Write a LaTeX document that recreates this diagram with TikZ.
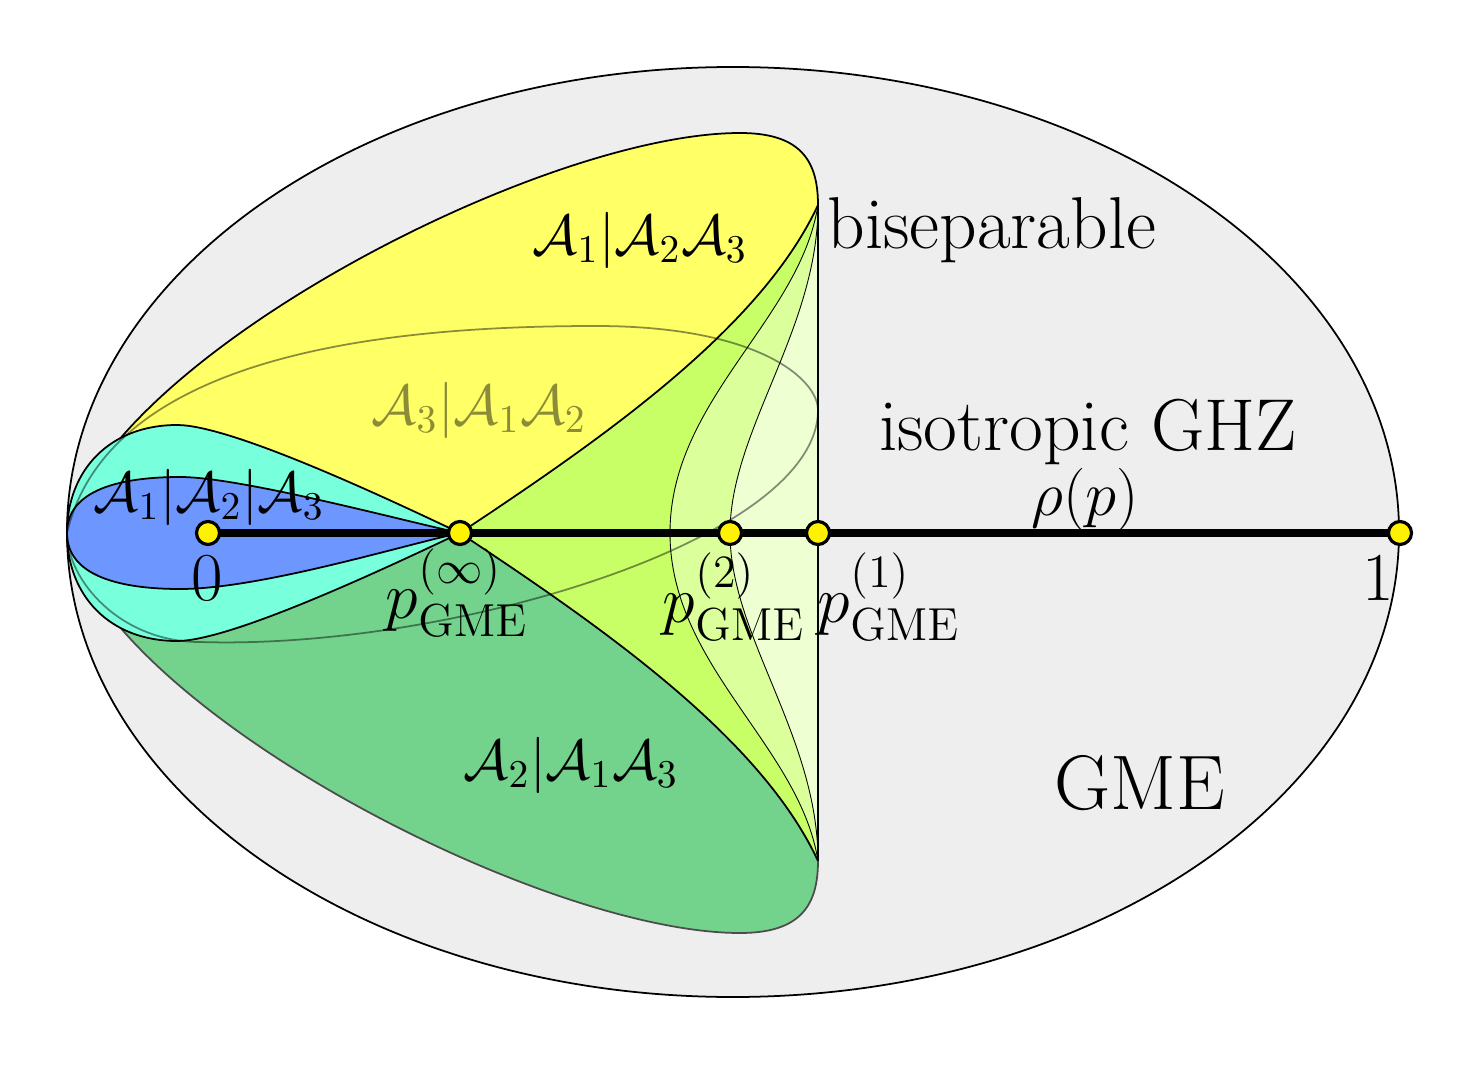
\documentclass[tikz,border=0pt]{standalone}
\usepackage{fix-cm}
\usepackage{amsmath}
\definecolor{bgray}{RGB}{238,238,238}
\definecolor{yel}{RGB}{255,255,102}
\definecolor{limeA}{RGB}{200,255,102}
\definecolor{limeB}{RGB}{218,255,155}
\definecolor{limeC}{RGB}{238,255,210}
\definecolor{cyanA}{RGB}{120,255,220}
\definecolor{blueA}{RGB}{110,150,255}
\definecolor{greenA}{RGB}{115,211,140}
\begin{document}
\begin{tikzpicture}[x=0.01cm,y=-0.01cm,
  edge/.style={line width=0.5pt},
  hair/.style={line width=0.25pt},
  dot/.style={circle,draw=black,fill=yellow,line width=0.9pt,inner sep=0pt,minimum size=0.23cm},
  txt/.style={font=\fontsize{20.9}{25}\selectfont,inner sep=0pt},
  big/.style={font=\fontsize{22}{26}\selectfont,inner sep=0pt},
  lab/.style={font=\fontsize{16}{19}\selectfont,inner sep=0pt},
  rlab/.style={font=\fontsize{17.9}{21}\selectfont,inner sep=0pt},
  plab/.style={font=\fontsize{18.8}{22}\selectfont,inner sep=0pt},
  nlab/.style={font=\fontsize{19.5}{23}\selectfont,inner sep=0pt}]
\useasboundingbox (0,0) rectangle (1467,1067);
\coordinate (L) at (67,533);
\coordinate (Pinf) at (460,533);
\coordinate (CT) at (818,205);
\coordinate (CB) at (818,861);
\coordinate (c0) at (208,533);
\coordinate (c2) at (730,533);
\coordinate (c1p) at (818,533);
\coordinate (c1) at (1400,533);
% outer ellipse
\filldraw[fill=bgray,draw=black,edge] (733,532) ellipse [x radius=666, y radius=465];
% lime regions
\fill[limeA] (Pinf) .. controls (600,440) and (760,330) .. (CT) -- (CB) .. controls (760,736) and (600,626) .. (Pinf) -- cycle;
\fill[limeB] (CT) .. controls (800,320) and (670,400) .. (670,533) .. controls (670,666) and (800,746) .. (CB) -- cycle;
\fill[limeC] (CT) .. controls (818,330) and (730,430) .. (730,533) .. controls (730,636) and (818,736) .. (CB) -- cycle;
\draw[hair] (CT) .. controls (800,320) and (670,400) .. (670,533) .. controls (670,666) and (800,746) .. (CB);
\draw[hair] (CT) .. controls (818,330) and (730,430) .. (730,533) .. controls (730,636) and (818,736) .. (CB);
\draw[edge] (CT) -- (CB);
% yellow
\fill[yel] (L) .. controls (105,360) and (540,133) .. (740,133) .. controls (800,133) and (818,160) .. (CT) .. controls (760,330) and (600,440) .. (Pinf) -- cycle;
% green
\fill[greenA] (L) .. controls (105,706) and (540,933) .. (740,933) .. controls (800,933) and (818,906) .. (CB) .. controls (760,736) and (600,626) .. (Pinf) -- cycle;
\draw[edge] (L) .. controls (105,360) and (540,133) .. (740,133) .. controls (800,133) and (818,160) .. (CT) .. controls (760,330) and (600,440) .. (Pinf);
\draw[edge,draw=black!70] (L) .. controls (105,706) and (540,933) .. (740,933) .. controls (800,933) and (818,906) .. (CB);
\draw[edge] (CB) .. controls (760,736) and (600,626) .. (Pinf);
% cyan lens
\filldraw[fill=cyanA,draw=black,edge] (L) .. controls (67,470) and (110,425) .. (177,425) .. controls (230,425) and (380,495) .. (Pinf) .. controls (380,571) and (230,641) .. (177,641) .. controls (110,641) and (67,596) .. (L) -- cycle;
% blue lens
\filldraw[fill=blueA,draw=black,edge] (L) .. controls (67,490) and (120,477) .. (180,477) .. controls (240,477) and (400,520) .. (Pinf) .. controls (400,546) and (260,589) .. (180,589) .. controls (120,589) and (67,576) .. (L) -- cycle;
% A3 | A1A2 transparent outline
\draw[black,opacity=0.45,edge] (L) .. controls (110,350) and (400,326) .. (596,326) .. controls (760,326) and (818,380) .. (818,410) .. controls (818,540) and (450,650) .. (200,642) .. controls (120,642) and (67,580) .. (L);
% axis
\draw[line width=2pt] (c0) -- (c1);
\node[dot] (d0) at (c0) {};
\node[dot] (dinf) at (Pinf) {};
\node[dot] (d2) at (c2) {};
\node[dot] (d1p) at (c1p) {};
\node[dot] (d1) at (c1) {};
% labels
\node[lab] (l123) at (640,240) {$\mathcal{A}_1|\mathcal{A}_2\mathcal{A}_3$};
\node[lab,text opacity=0.45] (l312) at (479,410) {$\mathcal{A}_3|\mathcal{A}_1\mathcal{A}_2$};
\node[lab] (l213) at (571,765) {$\mathcal{A}_2|\mathcal{A}_1\mathcal{A}_3$};
\node[lab] (lfull) at (209,497) {$\mathcal{A}_1|\mathcal{A}_2|\mathcal{A}_3$};
\node[txt] (bisep) at (992,230) {biseparable};
\node[txt] (iso) at (1088,432) {isotropic GHZ};
\node[rlab] (rho) at (1085,500) {$\rho(p)$};
\node[big] (gme) at (1140,783) {GME};
\node[nlab] (zero) at (207,578) {$0$};
\node[nlab] (one) at (1378,578) {$1$};
\node[plab] (pinf) at (457,593) {$p_{\mathrm{GME}}^{(\infty)}$};
\node[plab] (ptwo) at (734,597) {$p_{\mathrm{GME}}^{(2)}$};
\node[plab] (pone) at (889,597) {$p_{\mathrm{GME}}^{(1)}$};
\end{tikzpicture}
\end{document}
